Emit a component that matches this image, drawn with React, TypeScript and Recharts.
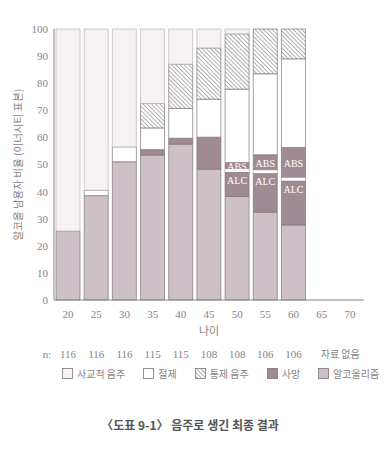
import { BarChart, Bar, XAxis, YAxis, LabelList, Rectangle } from "recharts";

const ages = ["20", "25", "30", "35", "40", "45", "50", "55", "60", "65", "70"];
const sampleSizes = ["116", "116", "116", "115", "115", "108", "108", "106", "106", "자료 없음", ""];

// 아래에서 위로 쌓이는 순서
const alcoholism = [25.5, 38.5, 51, 53.5, 57.5, 48.3, 38.2, 32.4, 27.7, 0, 0];
const death = [0, 0, 0, 2, 2.2, 11.8, 0, 0, 0, 0, 0];
const deathAlc = [0, 0, 0, 0, 0, 0, 9, 14.4, 16.3, 0, 0];
const deathAbs = [0, 0, 0, 0, 0, 0, 3.5, 6.8, 12.3, 0, 0];
const abstinent = [0, 2, 5.5, 8, 11, 14, 27.1, 29.9, 32.7, 0, 0];
const controlled = [0, 0, 0, 9, 16.3, 18.9, 20.4, 16.5, 11, 0, 0];
const social = [74.5, 59.5, 43.5, 27.5, 13, 7, 1.8, 0, 0, 0, 0];

const yTicks = [0, 10, 20, 30, 40, 50, 60, 70, 80, 90, 100];
const legendLabels = ["사교적 음주", "절제", "통제 음주", "사망", "알코올리즘"];
const yTitle = "알코올 남용자 비율 (이너시티 표본)";

const data = ages.map((age, i) => ({
  age,
  n: sampleSizes[i],
  alcoholism: alcoholism[i],
  death: death[i],
  deathAlc: deathAlc[i],
  deathAbs: deathAbs[i],
  abstinent: abstinent[i],
  controlled: controlled[i],
  social: social[i],
}));

const GREY = "#8a8385";
const EDGE = "#7f7479";
const LIGHT = "#cdc1c7";
const DARK = "#a08b94";
const SOCIAL = "#f6f1f2";
const SERIF = "'Liberation Serif', 'DejaVu Serif', serif";
const SANS = "'Noto Sans CJK KR', 'Noto Sans', sans-serif";

const legendFills = [SOCIAL, "#fff", "url(#hatch)", DARK, LIGHT];

function AgeTick(props: any) {
  const { x, y, payload, index } = props;
  const n = sampleSizes[index];
  return (
    <g>
      <text x={x} y={y} dy={16} textAnchor="middle" fill={GREY} fontSize={11} fontFamily={SERIF}>
        {payload.value}
      </text>
      {index === 0 && (
        <text x={x - 21} y={y} dy={56} textAnchor="middle" fill={GREY} fontSize={11} fontFamily={SERIF}>
          n:
        </text>
      )}
      {n && (
        <text
          x={n.length > 3 ? x - 1 : x}
          y={y}
          dy={56}
          textAnchor={n.length > 3 ? "start" : "middle"}
          fill={GREY}
          fontSize={n.length > 3 ? 10 : 11}
          fontFamily={n.length > 3 ? SANS : SERIF}
        >
          {n}
        </text>
      )}
    </g>
  );
}

function YTitle(props: any) {
  const vb = props.viewBox || {};
  const cy = vb.y + vb.height / 2;
  return (
    <text
      x={17}
      y={cy}
      transform={`rotate(-90, 17, ${cy})`}
      textAnchor="middle"
      dominantBaseline="central"
      fill={GREY}
      fontSize={10.5}
      fontFamily={SANS}
    >
      {yTitle}
    </text>
  );
}

// ABS 구간 아래쪽에 흰 띠
function AbsShape(props: any) {
  const { x, y, width, height } = props;
  if (!height || height <= 0) return null;
  return (
    <g>
      <Rectangle {...props} />
      <rect x={x} y={y + height - 3} width={width} height={3} fill="#fff" />
    </g>
  );
}

function segLabel(text: string, fromTop: boolean) {
  return (props: any) => {
    const { x, y, width, height, value } = props;
    if (!value) return null;
    const ty = fromTop ? y + 12 : y + height / 2 + 3;
    return (
      <text x={x + width / 2} y={ty} textAnchor="middle" fill="#fff" fontSize={10} fontFamily={SERIF}>
        {text}
      </text>
    );
  };
}

export default function App() {
  const barProps = {
    stackId: "a",
    barSize: 24,
    stroke: EDGE,
    strokeWidth: 0.7,
    isAnimationActive: false,
  };

  return (
    <div
      style={{
        position: "absolute",
        left: 0,
        top: 0,
        width: 384,
        height: 453,
        background: "#fff",
        fontFamily: SANS,
      }}
    >
      <BarChart width={384} height={360} data={data} margin={{ top: 29, right: 20, left: 0, bottom: 0 }}>
        <defs>
          <pattern id="hatch" width={3} height={3} patternUnits="userSpaceOnUse" patternTransform="rotate(-45)">
            <rect width={3} height={3} fill="#fff" />
            <line x1={0} y1={0} x2={0} y2={3} stroke="#6f6a6c" strokeWidth={1.1} />
          </pattern>
        </defs>
        <XAxis
          dataKey="age"
          height={60}
          tick={<AgeTick />}
          tickLine={false}
          tickSize={0}
          axisLine={{ stroke: GREY }}
          interval={0}
          label={{ value: "나이", position: "insideBottom", offset: 25, fill: GREY, fontSize: 11, fontFamily: SANS }}
        />
        <XAxis xAxisId="top" orientation="top" dataKey="age" height={0} tick={false} tickLine={false} axisLine={{ stroke: GREY }} />
        <YAxis
          domain={[0, 100]}
          ticks={yTicks}
          width={54}
          tickLine={false}
          tickSize={4}
          tickMargin={2}
          axisLine={{ stroke: GREY }}
          tick={{ fill: GREY, fontSize: 11, fontFamily: SERIF }}
          interval={0}
          label={<YTitle />}
        />
        <YAxis yAxisId="right" orientation="right" domain={[0, 100]} width={0} tick={false} tickLine={false} axisLine={{ stroke: GREY }} />
        <Bar dataKey="alcoholism" fill={LIGHT} {...barProps} />
        <Bar dataKey="death" fill={DARK} {...barProps} />
        <Bar dataKey="deathAlc" fill={DARK} {...barProps}>
          <LabelList dataKey="deathAlc" content={segLabel("ALC", true)} />
        </Bar>
        <Bar dataKey="deathAbs" fill={DARK} {...barProps} shape={<AbsShape />}>
          <LabelList dataKey="deathAbs" content={segLabel("ABS", false)} />
        </Bar>
        <Bar dataKey="abstinent" fill="#fff" {...barProps} />
        <Bar dataKey="controlled" fill="url(#hatch)" {...barProps} />
        <Bar dataKey="social" fill={SOCIAL} {...barProps} stroke="#b9b1b4" />
      </BarChart>

      <div
        style={{
          position: "absolute",
          top: 366,
          left: 62,
          display: "flex",
          alignItems: "center",
          gap: 18,
          fontSize: 10,
          color: GREY,
          whiteSpace: "nowrap",
        }}
      >
        {legendLabels.map((label, i) => (
          <div key={label} style={{ display: "flex", alignItems: "center" }}>
            <svg width={11} height={11} style={{ marginRight: 4 }}>
              <defs>
                <pattern id={`lh${i}`} width={3} height={3} patternUnits="userSpaceOnUse" patternTransform="rotate(-45)">
                  <rect width={3} height={3} fill="#fff" />
                  <line x1={0} y1={0} x2={0} y2={3} stroke="#6f6a6c" strokeWidth={1.1} />
                </pattern>
              </defs>
              <rect
                x={0.5}
                y={0.5}
                width={10}
                height={10}
                fill={legendFills[i] === "url(#hatch)" ? `url(#lh${i})` : legendFills[i]}
                stroke={EDGE}
                strokeWidth={0.8}
              />
            </svg>
            <span>{label}</span>
          </div>
        ))}
      </div>

      <div
        style={{
          position: "absolute",
          top: 416,
          left: 0,
          width: 380,
          textAlign: "center",
          fontSize: 12,
          fontWeight: 700,
          color: "#555",
        }}
      >
        〈도표 9-1〉 음주로 생긴 최종 결과
      </div>
    </div>
  );
}
